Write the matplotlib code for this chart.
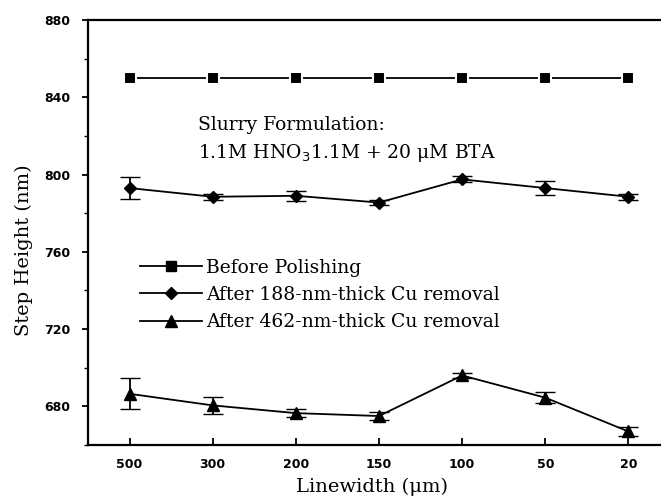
import numpy as np
import matplotlib.pyplot as plt
from matplotlib.lines import Line2D

plt.rc('font', family='DejaVu Serif')

# Data
linewidth = ['500', '300', '200', '150', '100', '50', '20']
before = [850, 850, 850, 850, 850, 850, 850]
after188 = [793, 788.5, 789, 785.5, 797.5, 793, 788.5]
err188 = [5.5, 1.5, 2.5, 1.5, 1.5, 3.5, 1.5]
after462 = [686.5, 680.5, 676.5, 675, 696, 684.5, 667]
err462 = [8, 4.5, 2, 2, 1.5, 3, 2.5]

x = np.arange(len(linewidth))

fig = plt.figure(figsize=(6.61, 5.04), dpi=100)
ax = fig.add_axes([88 / 661, 59 / 504, 582 / 661, 425 / 504])

ax.plot(x, before, '-s', color='black', markersize=8, lw=1.3,
        markeredgecolor='white', markeredgewidth=1.5, markerfacecolor='black')
ax.errorbar(x, after188, yerr=err188, fmt='-D', color='black', markersize=6,
            lw=1.3, capsize=7, elinewidth=1.3)
ax.errorbar(x, after462, yerr=err462, fmt='-^', color='black', markersize=9,
            lw=1.3, capsize=7, elinewidth=1.3)

ax.set_xlim(-0.5, 6.5)
ax.set_ylim(660, 880)
ax.set_xticks(x)
ax.set_xticklabels(linewidth)
ax.set_yticks([680, 720, 760, 800, 840, 880])
ax.set_yticks([660, 700, 740, 780, 820, 860], minor=True)
for lab in ax.get_xticklabels() + ax.get_yticklabels():
    lab.set_family('DejaVu Sans')
    lab.set_fontweight('bold')
    lab.set_fontsize(9)
ax.tick_params(direction='out', length=4, width=1.3, pad=9)
ax.tick_params(which='minor', direction='out', length=3, width=1.0)
ax.tick_params(axis='x', direction='in', length=5, pad=9)
for s in ax.spines.values():
    s.set_linewidth(1.6)

ax.set_xlabel('Linewidth (μm)', fontsize=14)
ax.set_ylabel('Step Height (nm)', fontsize=14)
ax.xaxis.set_label_coords((372 - 88) / 582, -(478 - 445) / 425)
ax.yaxis.set_label_coords(-(88 - 33) / 582, (445 - 250) / 425)

fig.text(198 / 661, 1 - 125 / 504, 'Slurry Formulation:', fontsize=13.5, va='center')
fig.text(198 / 661, 1 - 153 / 504, '1.1M HNO$_3$1.1M + 20 μM BTA', fontsize=13.5,
         va='center')

# Legend without error bars
handles = [Line2D([], [], color='black', marker='s', markersize=7, lw=1.3),
           Line2D([], [], color='black', marker='D', markersize=6, lw=1.3),
           Line2D([], [], color='black', marker='^', markersize=9, lw=1.3)]
labels = ['Before Polishing', 'After 188-nm-thick Cu removal',
          'After 462-nm-thick Cu removal']
ax.legend(handles, labels, loc='upper left', bbox_to_anchor=(0.06, 0.478),
          frameon=False, fontsize=13.5, handlelength=3.3, handletextpad=0.25,
          labelspacing=0.49)

fig.savefig('out.png', dpi=100)
